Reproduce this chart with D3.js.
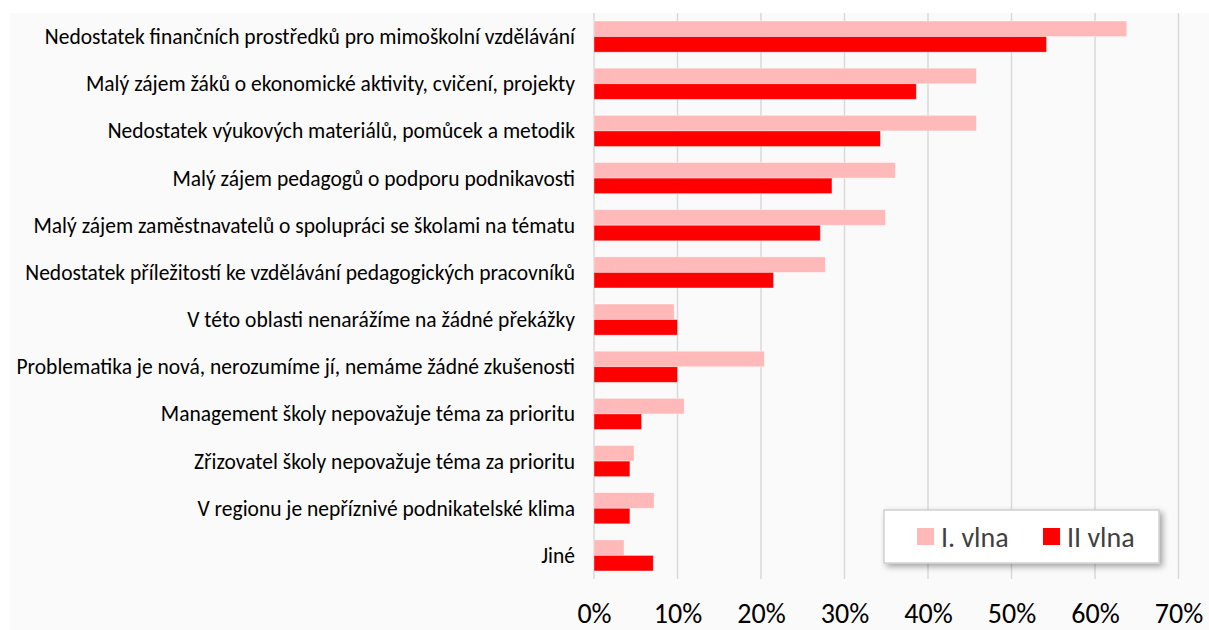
<!DOCTYPE html>
<html>
<head>
<meta charset="utf-8">
<script src="https://cdn.jsdelivr.net/npm/d3@7"></script>
<style>
  html, body { margin: 0; padding: 0; background: #fff; }
  svg { display: block; font-family: Carlito, Lato, "Open Sans", sans-serif; }
</style>
</head>
<body>
<div id="chart"></div>
<script>

// categories, top to bottom
var categories = [
	"Nedostatek finančních prostředků pro mimoškolní vzdělávání",
	"Malý zájem žáků o ekonomické aktivity, cvičení, projekty",
	"Nedostatek výukových materiálů, pomůcek a metodik",
	"Malý zájem pedagogů o podporu podnikavosti",
	"Malý zájem zaměstnavatelů o spolupráci se školami na tématu",
	"Nedostatek příležitostí ke vzdělávání pedagogických pracovníků",
	"V této oblasti nenarážíme na žádné překážky",
	"Problematika je nová, nerozumíme jí, nemáme žádné zkušenosti",
	"Management školy nepovažuje téma za prioritu",
	"Zřizovatel školy nepovažuje téma za prioritu",
	"V regionu je nepříznivé podnikatelské klima",
	"Jiné"
];

var seriesNames = ["I. vlna", "II vlna"];
var seriesColors = ["#ffb9b9", "#ff0000"];

var vlna1 = [0.638, 0.458, 0.458, 0.361, 0.349, 0.277, 0.096, 0.204, 0.108, 0.048, 0.072, 0.036];
var vlna2 = [0.542, 0.386, 0.343, 0.285, 0.271, 0.215, 0.100, 0.100, 0.057, 0.043, 0.043, 0.071];

var tickValues = [0, 0.1, 0.2, 0.3, 0.4, 0.5, 0.6, 0.7];

var width = 1209, height = 630;

var svg = d3.select("#chart").append("svg")
	.attr("width", width)
	.attr("height", height);

var defs = svg.append("defs");
var shadow = defs.append("filter")
	.attr("id", "shadow")
	.attr("x", "-10%").attr("y", "-20%")
	.attr("width", "130%").attr("height", "160%");
shadow.append("feDropShadow")
	.attr("dx", 3).attr("dy", 3)
	.attr("stdDeviation", 3)
	.attr("flood-color", "#000")
	.attr("flood-opacity", 0.35);

// light grey chart area
svg.append("rect")
	.attr("x", 10).attr("y", 13)
	.attr("width", width - 10).attr("height", height - 13)
	.attr("fill", "#fafafa");

var x = d3.scaleLinear()
	.domain([0, 0.7])
	.range([594, 1178.5]);

var y = d3.scaleBand()
	.domain(categories)
	.range([13, 579])
	.paddingInner(0.34)
	.paddingOuter(0.17);

var ySub = d3.scaleBand()
	.domain([0, 1])
	.range([0, y.bandwidth()]);

// gridlines
svg.append("g")
	.selectAll("line")
	.data(tickValues)
	.enter()
	.append("line")
	.attr("x1", function(d) { return x(d); })
	.attr("x2", function(d) { return x(d); })
	.attr("y1", 13)
	.attr("y2", 579)
	.attr("stroke", "#d9d9d9")
	.attr("stroke-width", 1.5);

// bars
var rows = svg.append("g")
	.selectAll("g")
	.data(categories)
	.enter()
	.append("g")
	.attr("transform", function(d) { return "translate(0," + y(d) + ")"; });

rows.selectAll("rect")
	.data(function(d, i) { return [vlna1[i], vlna2[i]]; })
	.enter()
	.append("rect")
	.attr("x", x(0))
	.attr("y", function(d, j) { return ySub(j); })
	.attr("width", function(d) { return x(d) - x(0); })
	.attr("height", ySub.bandwidth())
	.attr("fill", function(d, j) { return seriesColors[j]; })
	.attr("stroke", "#fff")
	.attr("stroke-opacity", 0.5)
	.attr("stroke-width", 0.75);

// category labels
svg.append("g")
	.selectAll("text")
	.data(categories)
	.enter()
	.append("text")
	.attr("x", 575)
	.attr("y", function(d) { return y(d) + y.bandwidth() / 2; })
	.attr("dy", "0.35em")
	.attr("text-anchor", "end")
	.attr("font-size", 21.5)
	.attr("fill", "#000")
	.text(function(d) { return d; });

// x axis
var xAxis = d3.axisBottom(x)
	.tickValues(tickValues)
	.tickFormat(d3.format(".0%"))
	.tickSize(0)
	.tickPadding(0);

var axisG = svg.append("g")
	.attr("transform", "translate(0,604)")
	.call(xAxis);
axisG.select(".domain").remove();
axisG.selectAll("text")
	.attr("font-size", 28)
	.attr("font-family", "Carlito, Lato, 'Open Sans', sans-serif")
	.attr("fill", "#000")
	.attr("dy", "0.35em")
	.attr("y", 9);

// legend
var legend = svg.append("g")
	.attr("transform", "translate(884,510)");

legend.append("rect")
	.attr("width", 275)
	.attr("height", 53)
	.attr("fill", "#fff")
	.attr("stroke", "#d0d0d0")
	.attr("stroke-width", 1.5)
	.attr("filter", "url(#shadow)");

var legendX = [33, 159];
var items = legend.selectAll("g.item")
	.data(seriesNames)
	.enter()
	.append("g")
	.attr("class", "item")
	.attr("transform", function(d, i) { return "translate(" + legendX[i] + ",18)"; });

items.append("rect")
	.attr("width", 17)
	.attr("height", 17)
	.attr("fill", function(d, i) { return seriesColors[i]; });

items.append("text")
	.attr("x", 24)
	.attr("y", 9)
	.attr("dy", "0.35em")
	.attr("font-size", 28)
	.attr("fill", "#404040")
	.text(function(d) { return d; });

</script>
</body>
</html>
